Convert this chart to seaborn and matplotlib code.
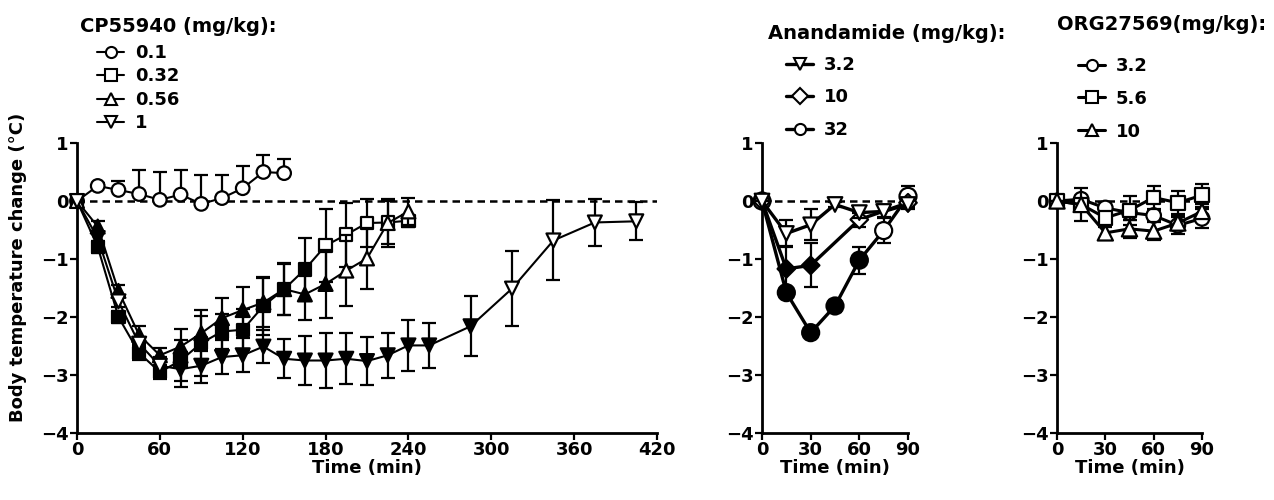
import matplotlib.pyplot as plt
import matplotlib.lines as mlines
import pandas as pd
import seaborn as sns

# ---- data ----
cp_t = [0, 15, 30, 45, 60, 75, 90, 105, 120, 135, 150, 165, 180, 195, 210, 225, 240]
cp1_t = [0, 15, 30, 45, 60, 75, 90, 105, 120, 135, 150, 165, 180, 195, 210, 225, 240, 255,
         285, 315, 345, 375, 405]

cp01_v = [0, 0.26, 0.19, 0.12, 0.02, 0.11, -0.05, 0.05, 0.22, 0.50, 0.48]
cp01_e = [0, 0.05, 0.16, 0.42, 0.48, 0.43, 0.50, 0.40, 0.39, 0.29, 0.25]
cp01_f = [0] * 11

cp032_v = [0, -0.79, -2.0, -2.62, -2.95, -2.75, -2.45, -2.25, -2.22, -1.81, -1.52, -1.18,
           -0.77, -0.58, -0.38, -0.37, -0.34]
cp032_e = [0, 0.1, 0.1, 0.12, 0.12, 0.35, 0.57, 0.3, 0.35, 0.5, 0.44, 0.54, 0.63, 0.55,
           0.41, 0.37, 0.1]
cp032_f = [0] + [1] * 11 + [0] * 5

cp056_v = [0, -0.44, -1.55, -2.31, -2.66, -2.51, -2.28, -2.02, -1.88, -1.75, -1.52, -1.61,
           -1.43, -1.2, -0.99, -0.38, -0.18]
cp056_e = [0, 0.1, 0.1, 0.15, 0.12, 0.3, 0.3, 0.35, 0.4, 0.42, 0.45, 0.44, 0.58, 0.61,
           0.53, 0.41, 0.23]
cp056_f = [0] + [1] * 12 + [0] * 4

cp1_v = [0, -0.64, -1.73, -2.46, -2.84, -2.9, -2.84, -2.69, -2.66, -2.51, -2.72, -2.75,
         -2.75, -2.72, -2.76, -2.66, -2.49, -2.49, -2.16, -1.51, -0.68, -0.37, -0.35]
cp1_e = [0, 0.1, 0.1, 0.12, 0.15, 0.3, 0.29, 0.3, 0.29, 0.29, 0.34, 0.42, 0.47, 0.44,
         0.41, 0.39, 0.44, 0.39, 0.52, 0.65, 0.69, 0.4, 0.33]
cp1_f = [0, 1, 0, 0, 0] + [1] * 14 + [0] * 4

short_t = [0, 15, 30, 45, 60, 75, 90]
an10_t = [0, 15, 30, 60, 90]
an32_v = [0, -0.56, -0.41, -0.06, -0.2, -0.18, -0.06]
an32_e = [0, 0.23, 0.27, 0.05, 0.1, 0.1, 0.08]
an32_f = [0] * 7
an10_v = [0, -1.17, -1.11, -0.32, -0.03]
an10_e = [0, 0.4, 0.38, 0.12, 0.05]
an10_f = [0, 1, 1, 0, 0]
an320_v = [0, -1.58, -2.27, -1.81, -1.02, -0.51, 0.08]
an320_e = [0, 0.05, 0.05, 0.1, 0.23, 0.22, 0.18]
an320_f = [0, 1, 1, 1, 1, 0, 0]

org32_v = [0, 0.03, -0.12, -0.2, -0.25, -0.42, -0.3]
org32_e = [0, 0.05, 0.1, 0.12, 0.1, 0.15, 0.17]
org56_v = [0, -0.06, -0.29, -0.16, 0.06, -0.03, 0.1]
org56_e = [0, 0.05, 0.1, 0.25, 0.2, 0.2, 0.2]
org10_v = [0, -0.06, -0.55, -0.48, -0.52, -0.38, -0.18]
org10_e = [0, 0.28, 0.1, 0.15, 0.15, 0.12, 0.12]
org_f = [0] * 7

sns.set_theme(style="ticks")
plt.rcParams["font.family"] = ["DejaVu Sans"]
plt.rcParams["font.weight"] = "bold"
plt.rcParams["font.size"] = 13
for key in ("text.color", "axes.labelcolor", "xtick.color", "ytick.color", "axes.edgecolor"):
    plt.rcParams[key] = "black"

fig = plt.figure(figsize=(12.74, 5.0), dpi=100)
W, H = 1274, 500


def make_ax(x0, x1, y_top=143, y_bot=433):
    return fig.add_axes([x0 / W, (H - y_bot) / H, (x1 - x0) / W, (y_bot - y_top) / H])


ax1 = make_ax(77, 657)
ax2 = make_ax(762, 908)
ax3 = make_ax(1057, 1202)


def draw(ax, t, v, e, f, marker, size, lw, upper_only=False, z=3):
    df = pd.DataFrame({"t": t, "v": v, "e": e,
                       "fill": ["filled" if x else "open" for x in f]})
    lo = [0] * len(e) if upper_only else e
    ax.errorbar(df["t"], df["v"], yerr=[lo, df["e"]], fmt="none", ecolor="black",
                elinewidth=1.6, capsize=5, capthick=1.6, zorder=z, clip_on=False)
    sns.lineplot(data=df, x="t", y="v", color="black", linewidth=lw, sort=False,
                 errorbar=None, ax=ax, zorder=z + 0.1, legend=False)
    sns.scatterplot(data=df, x="t", y="v", hue="fill",
                    palette={"filled": "black", "open": "white"}, marker=marker, s=size,
                    edgecolor="black", linewidth=1.6, ax=ax, zorder=z + 0.2, legend=False,
                    clip_on=False)


draw(ax1, cp_t[:11], cp01_v, cp01_e, cp01_f, "o", 95, 1.5, upper_only=True, z=3)
draw(ax1, cp_t, cp032_v, cp032_e, cp032_f, "s", 80, 1.5, z=4)
draw(ax1, cp_t, cp056_v, cp056_e, cp056_f, "^", 100, 1.5, z=5)
draw(ax1, cp1_t, cp1_v, cp1_e, cp1_f, "v", 100, 1.5, z=6)

draw(ax2, short_t, an32_v, an32_e, an32_f, "v", 110, 2.4, z=5)
draw(ax2, an10_t, an10_v, an10_e, an10_f, "D", 80, 2.4, z=4)
draw(ax2, short_t, an320_v, an320_e, an320_f, "o", 150, 2.4, z=3)

draw(ax3, short_t, org32_v, org32_e, org_f, "o", 110, 2.2, z=3)
draw(ax3, short_t, org56_v, org56_e, org_f, "s", 95, 2.2, z=4)
draw(ax3, short_t, org10_v, org10_e, org_f, "^", 120, 2.2, z=5)

for ax, xmax, step in [(ax1, 420, 60), (ax2, 90, 30), (ax3, 90, 30)]:
    ax.axhline(0, color="black", linestyle=(0, (3, 2)), linewidth=1.8, zorder=1)
    ax.set_xlim(0, xmax)
    ax.set_ylim(-4, 1)
    ax.set_xticks(range(0, xmax + 1, step))
    ax.set_yticks([-4, -3, -2, -1, 0, 1])
    ax.set_xlabel("Time (min)", fontsize=13, fontweight="bold", labelpad=0)
    ax.set_ylabel("")
    ax.tick_params(width=1.6, length=5, labelsize=13, pad=1)
    for lab in ax.get_xticklabels() + ax.get_yticklabels():
        lab.set_fontweight("bold")
    sns.despine(ax=ax)
    for sp in ("left", "bottom"):
        ax.spines[sp].set_linewidth(2)

ax1.set_ylabel("Body temperature change (°C)", fontsize=13, fontweight="bold")
ax1.yaxis.set_label_coords(-0.087, 0.57)


def handle(marker, lw, ms):
    return mlines.Line2D([], [], color="black", linewidth=lw, marker=marker, markersize=ms,
                         markerfacecolor="white", markeredgecolor="black",
                         markeredgewidth=1.5)


def legend(title, tx, ty, labels, markers, lw, ms, lx, ly, spacing):
    fig.text(tx / W, 1 - ty / H, title, fontsize=14, fontweight="bold", va="center")
    hs = [handle(m, lw, ms) for m in markers]
    fig.legend(hs, labels, loc="upper left", bbox_to_anchor=(lx / W, 1 - ly / H),
               frameon=False, handlelength=1.5, handletextpad=0.6, labelspacing=spacing,
               borderpad=0, borderaxespad=0, prop={"size": 13, "weight": "bold"},
               labelcolor="black")


legend("CP55940 (mg/kg):", 80, 27, ["0.1", "0.32", "0.56", "1"], ["o", "s", "^", "v"],
       1.5, 8, 97, 44, 0.3)
legend("Anandamide (mg/kg):", 768, 33, ["3.2", "10", "32"], ["v", "D", "o"],
       2.4, 8, 786, 56, 0.8)
legend("ORG27569(mg/kg):", 1057, 25, ["3.2", "5.6", "10"], ["o", "s", "^"],
       2.2, 8, 1078, 57, 0.82)

fig.savefig("out.png", dpi=100)
